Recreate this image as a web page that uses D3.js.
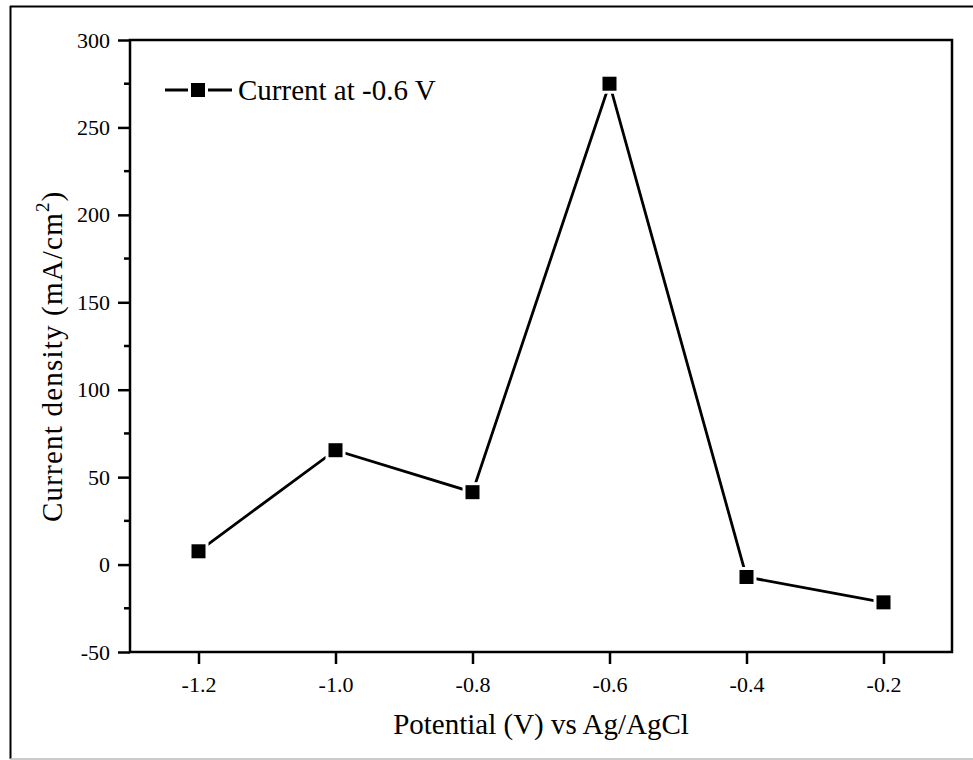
<!DOCTYPE html>
<html><head><meta charset="utf-8">
<script src="https://cdn.jsdelivr.net/npm/d3@7"></script>
<style>body{margin:0;background:#fff}svg{display:block}text{font-family:"Liberation Serif","Times New Roman",serif;fill:#000}</style>
</head><body><svg id="c" width="973" height="760"></svg>
<script>
const potentials = [-1.2, -1.0, -0.8, -0.6, -0.4, -0.2];
const currentDensity = [7.6, 65.4, 41.4, 275, -7.1, -21.6];
const xTicks = [-1.2, -1.0, -0.8, -0.6, -0.4, -0.2];
const yTicks = [-50, 0, 50, 100, 150, 200, 250, 300];
const yMinorTicks = [-25, 25, 75, 125, 175, 225, 275];
const seriesName = "Current at -0.6 V";

const svg = d3.select("#c");
const L = 130, R = 952, T = 40, B = 652;
const x = d3.scaleLinear().domain([-1.3, -0.1]).range([L, R]);
const y = d3.scaleLinear().domain([-50, 300]).range([B, T]);

// outer frame
svg.append("line").attr("x1",10).attr("x2",973).attr("y1",6.5).attr("y2",6.5).attr("stroke","#000").attr("stroke-width",2);
svg.append("line").attr("x1",10.5).attr("x2",10.5).attr("y1",6).attr("y2",759).attr("stroke","#000").attr("stroke-width",2);
svg.append("line").attr("x1",10).attr("x2",973).attr("y1",759).attr("y2",759).attr("stroke","#bbb").attr("stroke-width",1.5);

// plot box
svg.append("rect").attr("x",L).attr("y",T).attr("width",R-L).attr("height",B-T)
  .attr("fill","none").attr("stroke","#000").attr("stroke-width",2.5);

// y axis
const yAx = svg.append("g").attr("transform",`translate(${L},0)`)
  .call(d3.axisLeft(y).tickValues(yTicks).tickSize(12).tickPadding(8).tickFormat(d3.format("d")));
yAx.append("g").selectAll("line").data(yMinorTicks).join("line")
  .attr("x1",0).attr("x2",-6).attr("y1",d=>y(d)).attr("y2",d=>y(d)).attr("stroke","#000").attr("stroke-width",2.5);
// x axis
const xAx = svg.append("g").attr("transform",`translate(0,${B})`)
  .call(d3.axisBottom(x).tickValues(xTicks).tickSize(12).tickPadding(12).tickFormat(d3.format(".1f")));
[yAx,xAx].forEach(g=>{
  g.select(".domain").remove();
  g.selectAll(".tick line").attr("stroke","#000").attr("stroke-width",2.5);
  g.selectAll(".tick text").attr("font-size",22).attr("fill","#000");
});
xAx.selectAll(".tick text").text(d=>d3.format(".1f")(d).replace("−","-"));
yAx.selectAll(".tick text").text(d=>String(d));

// line and markers
const pts = potentials.map((p,i)=>[p, currentDensity[i]]);
svg.append("path").datum(pts).attr("fill","none").attr("stroke","#000").attr("stroke-width",2.8)
  .attr("d", d3.line().x(d=>x(d[0])).y(d=>y(d[1])));
const m = svg.append("g").selectAll("g").data(pts).join("g")
  .attr("transform",d=>`translate(${x(d[0])},${y(d[1])})`);
m.append("rect").attr("x",-10).attr("y",-10).attr("width",20).attr("height",20).attr("fill","#fff");
m.append("rect").attr("x",-7).attr("y",-7).attr("width",14).attr("height",14).attr("fill","#000");

// legend
const lg = svg.append("g").attr("transform","translate(165,90)");
lg.append("line").attr("x1",0).attr("x2",67).attr("y1",0).attr("y2",0).attr("stroke","#000").attr("stroke-width",2.8);
lg.append("rect").attr("x",33-10).attr("y",-10).attr("width",20).attr("height",20).attr("fill","#fff");
lg.append("rect").attr("x",33-7).attr("y",-7).attr("width",14).attr("height",14).attr("fill","#000");
lg.append("text").attr("x",73).attr("y",10).attr("font-size",29).text(seriesName);

// axis titles
svg.append("text").attr("x",541).attr("y",734).attr("text-anchor","middle").attr("font-size",29)
  .text("Potential (V) vs Ag/AgCl");
const yt = svg.append("text").attr("transform","translate(62,522) rotate(-90)").attr("text-anchor","start")
  .attr("font-size",29).attr("letter-spacing",1.2);
yt.append("tspan").text("Current density (mA/cm");
yt.append("tspan").attr("font-size",19).attr("dy",-13).text("2");
yt.append("tspan").attr("dy",13).text(")");
</script></body></html>
